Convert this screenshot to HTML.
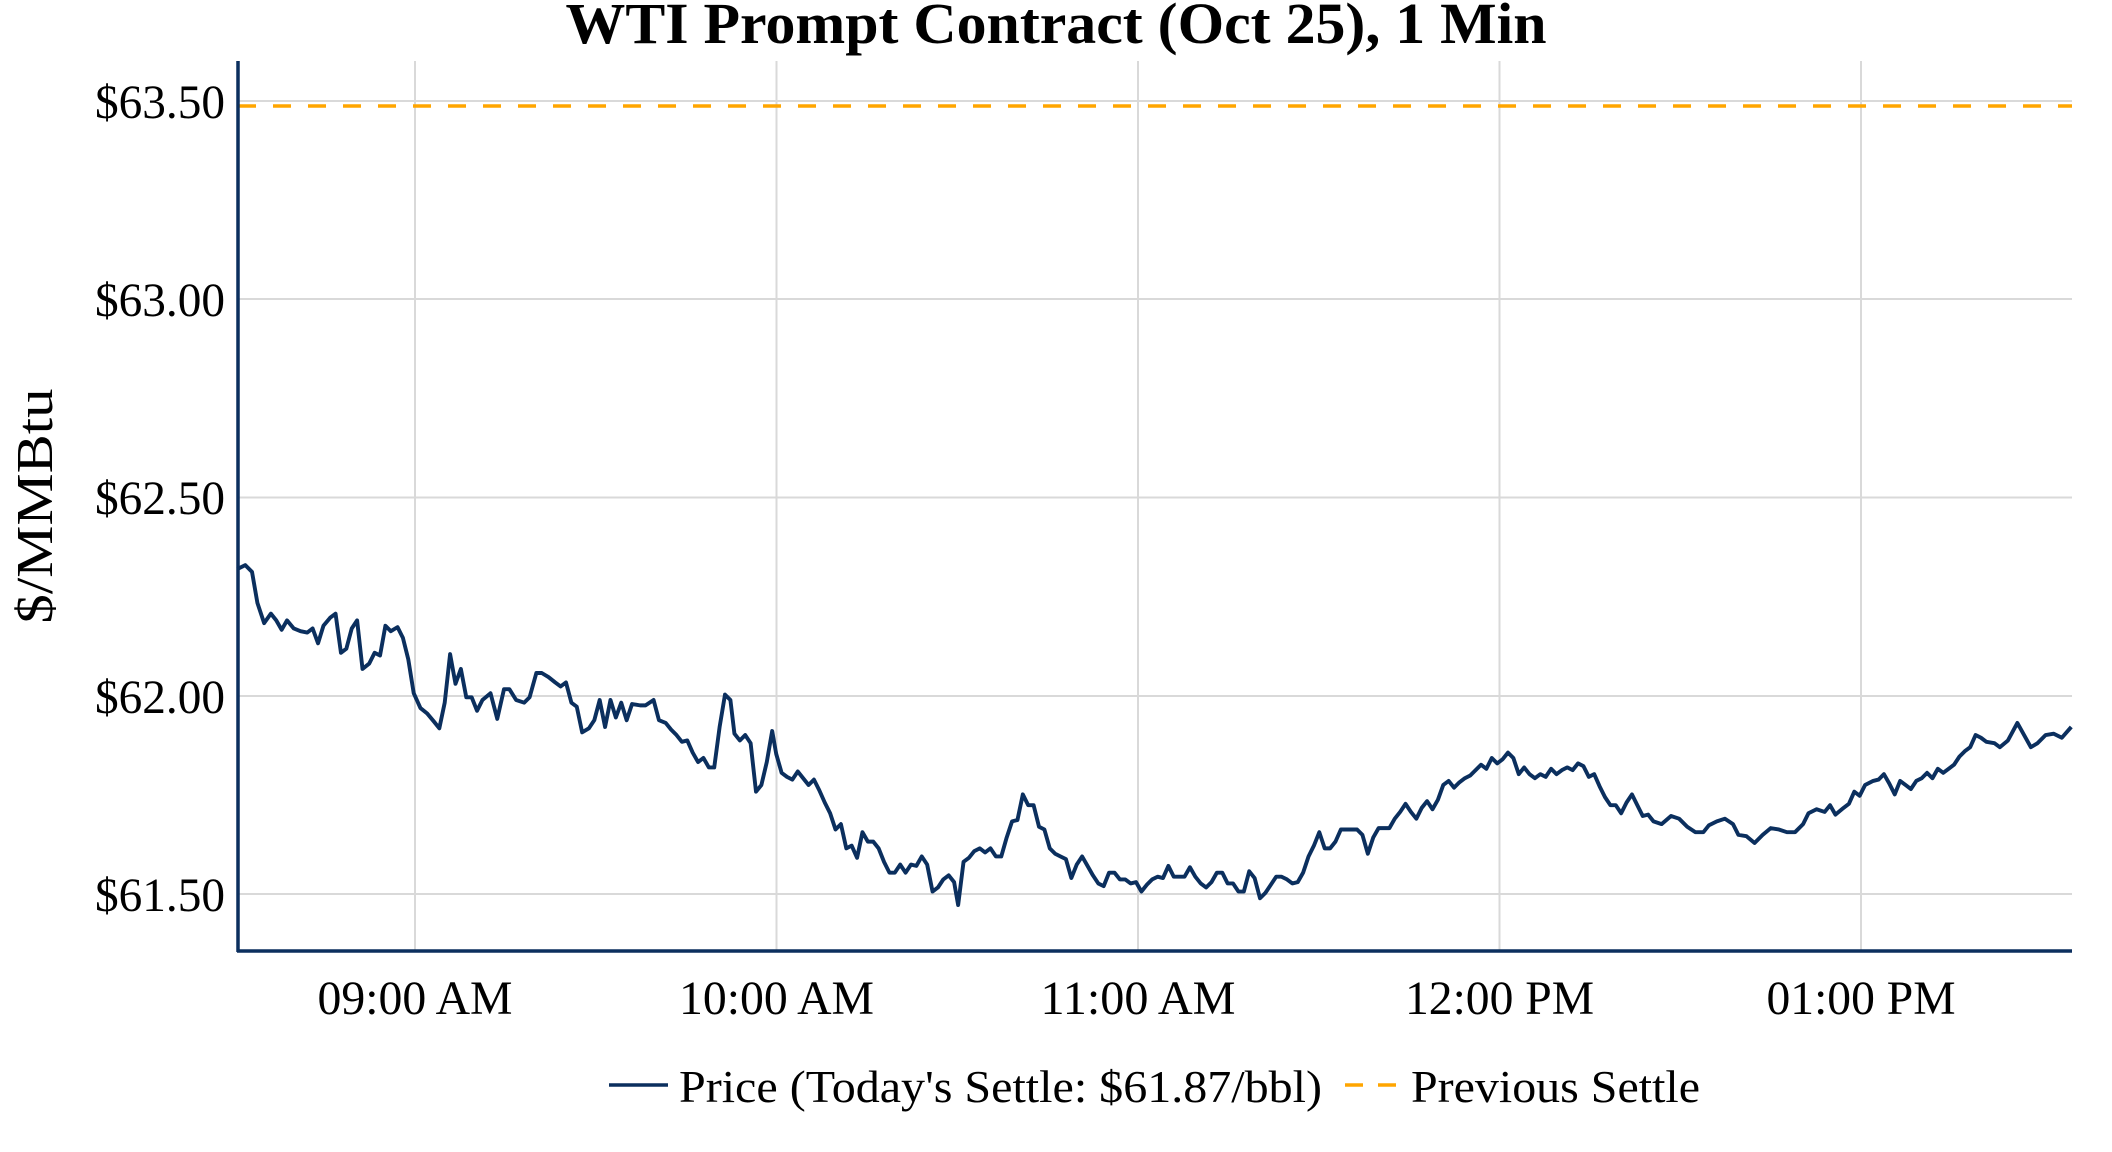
<!DOCTYPE html>
<html><head><meta charset="utf-8"><style>html,body{margin:0;padding:0;background:#fff}svg{display:block}</style></head>
<body>
<svg width="2112" height="1152" viewBox="0 0 2112 1152" xmlns="http://www.w3.org/2000/svg" font-family="'Liberation Serif', serif">
<rect width="2112" height="1152" fill="#fff"/>
<g stroke="#d9d9d9" stroke-width="2">
<line x1="238" x2="2072" y1="101" y2="101"/>
<line x1="238" x2="2072" y1="299" y2="299"/>
<line x1="238" x2="2072" y1="497.5" y2="497.5"/>
<line x1="238" x2="2072" y1="696" y2="696"/>
<line x1="238" x2="2072" y1="894" y2="894"/>
<line x1="415" x2="415" y1="61" y2="951"/>
<line x1="776.5" x2="776.5" y1="61" y2="951"/>
<line x1="1138" x2="1138" y1="61" y2="951"/>
<line x1="1499.5" x2="1499.5" y1="61" y2="951"/>
<line x1="1861" x2="1861" y1="61" y2="951"/>
</g>
<line x1="238" x2="2072" y1="106" y2="106" stroke="#FFA500" stroke-width="3.5" stroke-dasharray="18,17"/>
<g transform="translate(0,-1.5) scale(1.3476,1.349)">
<polyline fill="none" stroke="#0b2f5e" stroke-width="2.9" stroke-linejoin="round" points="176,423 182,420 187,425 191,448 196,463 201,456 205,461 209,468 213,461 218,467 223,469 228,470 232,467 236,478 240,465 245,459 249,456 253,485 257,482 261,467 265,461 269,497 274,493 278,485 282,487 286,465 290,469 295,466 299,474 303,490 307,515 312,526 317,530 322,536 326,541 330,522 334,486 338,508 342,497 346,518 350,518 354,528 358,520 364,515 369,534 374,512 378,512 383,520 389,522 393,518 398,500 402,500 407,503 412,507 416,510 420,507 424,522 428,525 432,544 437,541 441,535 445,520 449,540 453,520 457,533 461,522 465,535 469,523 475,524 479,524 485,520 489,535 494,537 498,542 502,546 506,551 510,550 514,559 518,566 522,563 526,570 530,570 534,540 538,516 542,520 545,545 549,550 553,546 557,552 561,588 565,583 569,566 573,543 576,560 580,574 584,577 588,579 592,573 596,578 600,583 604,579 608,587 612,596 616,604 620,616 624,612 628,630 632,628 636,637 640,618 644,625 648,625 652,630 656,640 660,648 664,648 668,642 672,648 676,642 680,643 684,636 688,642 692,662 696,659 700,653 704,650 708,655 711,672 715,640 719,637 723,632 727,630 731,633 735,630 739,636 743,636 747,622 751,610 755,609 759,590 763,598 767,598 771,614 775,616 779,630 783,634 787,636 791,638 795,652 799,642 803,636 807,643 811,650 815,656 819,658 823,648 827,648 831,653 835,653 839,656 843,655 847,662 851,657 855,653 859,651 863,652 867,643 871,651 875,651 879,651 883,644 887,651 891,656 895,659 899,655 903,648 907,648 911,656 915,656 919,662 923,662 927,647 931,652 935,667 939,663 943,657 947,651 951,651 955,653 959,656 963,655 967,648 971,636 975,628 979,618 983,630 987,630 991,625 995,616 999,616 1003,616 1007,616 1011,620 1015,634 1019,622 1023,615 1027,615 1031,615 1035,608 1039,603 1043,597 1047,603 1051,608 1055,600 1059,595 1063,601 1067,594 1071,583 1075,580 1079,585 1083,581 1087,578 1091,576 1095,572 1099,568 1103,571 1107,563 1111,567 1115,564 1119,559 1123,563 1127,575 1131,570 1135,575 1139,578 1143,575 1147,577 1151,571 1155,575 1159,572 1163,570 1167,572 1171,567 1175,569 1179,577 1183,575 1187,584 1191,592 1195,598 1199,598 1203,604 1207,596 1211,590 1215,598 1219,606 1223,605 1227,610 1233,612 1240,606 1246,608 1252,614 1258,618 1264,618 1268,613 1274,610 1280,608 1286,612 1290,620 1296,621 1302,626 1308,620 1314,615 1320,616 1326,618 1332,618 1338,612 1342,604 1348,601 1354,603 1358,598 1362,605 1368,600 1372,597 1376,588 1380,591 1384,583 1390,580 1394,579 1398,575 1402,582 1406,590 1410,580 1414,583 1418,586 1422,580 1426,578 1430,574 1434,578 1438,571 1442,574 1446,571 1450,568 1454,562 1458,558 1462,555 1466,546 1470,548 1474,551 1480,552 1484,555 1490,550 1497,537 1502,546 1507,555 1512,552 1518,546 1524,545 1530,548 1537,540"/>
</g>
<line x1="238" x2="238" y1="61" y2="952" stroke="#0b2f5e" stroke-width="3.5"/>
<line x1="237" x2="2072" y1="951" y2="951" stroke="#0b2f5e" stroke-width="3.5"/>
<text x="1056" y="43" font-size="58" font-weight="bold" text-anchor="middle" textLength="981" lengthAdjust="spacingAndGlyphs">WTI Prompt Contract (Oct 25), 1 Min</text>
<g font-size="48" text-anchor="end">
<text x="225" y="118" textLength="130" lengthAdjust="spacingAndGlyphs">$63.50</text>
<text x="225" y="316" textLength="130" lengthAdjust="spacingAndGlyphs">$63.00</text>
<text x="225" y="514" textLength="130" lengthAdjust="spacingAndGlyphs">$62.50</text>
<text x="225" y="713" textLength="130" lengthAdjust="spacingAndGlyphs">$62.00</text>
<text x="225" y="911" textLength="130" lengthAdjust="spacingAndGlyphs">$61.50</text>
</g>
<g font-size="48" text-anchor="middle">
<text x="415" y="1014" textLength="195" lengthAdjust="spacingAndGlyphs">09:00 AM</text>
<text x="776.5" y="1014" textLength="195" lengthAdjust="spacingAndGlyphs">10:00 AM</text>
<text x="1138" y="1014" textLength="195" lengthAdjust="spacingAndGlyphs">11:00 AM</text>
<text x="1499.5" y="1014" textLength="189" lengthAdjust="spacingAndGlyphs">12:00 PM</text>
<text x="1861" y="1014" textLength="189" lengthAdjust="spacingAndGlyphs">01:00 PM</text>
</g>
<text transform="translate(52,506) rotate(-90)" font-size="52" text-anchor="middle" textLength="235" lengthAdjust="spacingAndGlyphs">$/MMBtu</text>
<line x1="609" x2="668" y1="1085" y2="1085" stroke="#0b2f5e" stroke-width="3.5"/>
<text x="679" y="1102" font-size="46" textLength="643" lengthAdjust="spacingAndGlyphs">Price (Today's Settle: $61.87/bbl)</text>
<line x1="1345" x2="1396" y1="1085" y2="1085" stroke="#FFA500" stroke-width="3.5" stroke-dasharray="18,15"/>
<text x="1411" y="1102" font-size="46" textLength="289" lengthAdjust="spacingAndGlyphs">Previous Settle</text>
</svg>
</body></html>
